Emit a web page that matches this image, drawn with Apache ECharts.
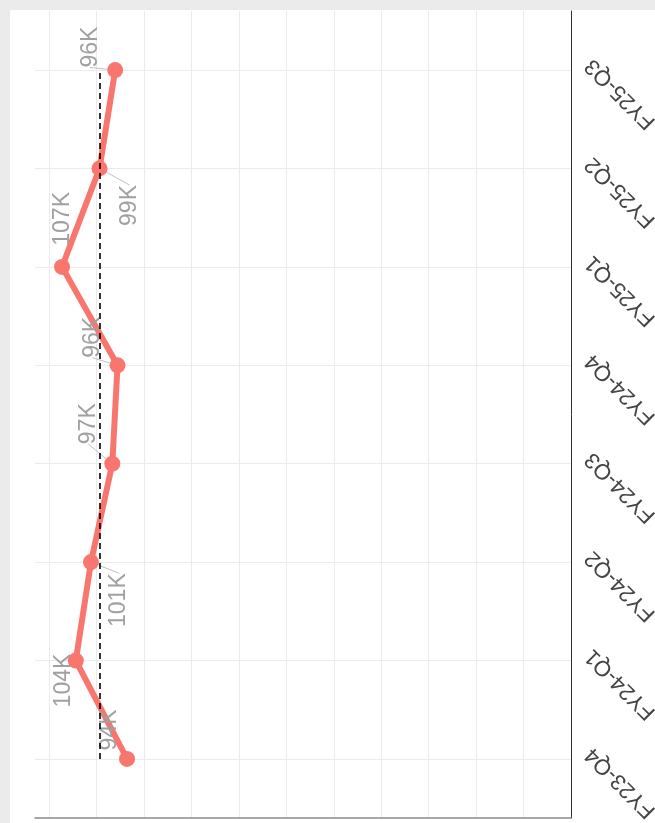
<!DOCTYPE html>
<html>
<head>
<meta charset="utf-8">
<script src="https://cdn.jsdelivr.net/npm/echarts@6/dist/echarts.min.js"></script>
<style>
html, body { margin:0; padding:0; background:#ebebeb; width:655px; height:823px; overflow:hidden; }
#chart { position:absolute; left:10px; top:10px; width:645px; height:813px; background:#fff; }
</style>
</head>
<body>
<div id="chart"></div>
<script>
// quarters from bottom to top
const quarters = ['FY23-Q4', 'FY24-Q1', 'FY24-Q2', 'FY24-Q3', 'FY24-Q4', 'FY25-Q1', 'FY25-Q2', 'FY25-Q3'];
// values in thousands
const values = [93.6, 104.4, 101.2, 96.7, 95.6, 107.3, 99.4, 96.1];
const gridTicks = [0, 10, 20, 30, 40, 50, 60, 70, 80, 90, 100, 110];
// label shifts on screen (px) and which labels get a leader line, like ggrepel did
const labelShift = [[-17, -29], [-12, 20], [28, 38], [-24, -40], [-25, -28], [1, -48], [30, 37], [-25, -23]];
const showLeader = [false, false, true, true, true, false, true, true];

const meanValue = values.reduce((a, b) => a + b, 0) / values.length;
const catIdx = quarters.map((q, i) => i);
const font = 'Liberation Sans';

const chart = echarts.init(document.getElementById('chart'));
const option = {
	animation: false,
	grid: { left: 25, right: 84, top: 1, bottom: 5, containLabel: false, outerBoundsMode: 'none' },
	xAxis: {
		type: 'value',
		inverse: true,
		min: 0,
		max: 113,
		axisLine: { show: true, onZero: false, lineStyle: { color: '#8a8a8a', width: 1.5 } },
		axisTick: { show: false, customValues: gridTicks },
		axisLabel: { show: false },
		splitLine: { show: true, lineStyle: { color: '#ebebeb', width: 1 } }
	},
	yAxis: {
		type: 'value',
		position: 'right',
		min: -0.6,
		max: 7.6,
		axisLine: { show: true, onZero: false, lineStyle: { color: '#333', width: 1 } },
		axisTick: { show: false, customValues: catIdx },
		axisLabel: {
			customValues: catIdx,
			formatter: v => quarters[v],
			rotate: 135,
			margin: 10,
			verticalAlign: 'top',
			color: '#444',
			fontSize: 22,
			fontFamily: font
		},
		splitLine: { show: true, lineStyle: { color: '#ebebeb', width: 1 } }
	},
	series: [
		{
			type: 'line',
			data: values.map((v, i) => ({ value: [v, i], labelLine: { show: showLeader[i] } })),
			symbol: 'circle',
			symbolSize: 16,
			lineStyle: { color: '#F8766D', width: 6 },
			itemStyle: { color: '#F8766D' },
			label: {
				show: true,
				position: 'inside',
				rotate: 90,
				formatter: p => Math.round(p.value[0]) + 'K',
				color: '#a0a0a0',
				fontSize: 23,
				fontFamily: font
			},
			labelLine: { show: true, lineStyle: { color: '#b0b0b0', width: 0.8 } },
			// the label frame is turned by 90 degrees, so swap the screen shift
			labelLayout: p => ({ dx: -labelShift[p.dataIndex][1], dy: labelShift[p.dataIndex][0] }),
			markLine: {
				silent: true,
				symbol: 'none',
				z: 5,
				label: { show: false },
				lineStyle: { color: '#000', type: [6, 4], width: 1.6 },
				data: [[{ coord: [meanValue, 0] }, { coord: [meanValue, quarters.length - 1] }]]
			}
		}
	]
};
chart.setOption(option);
</script>
</body>
</html>
